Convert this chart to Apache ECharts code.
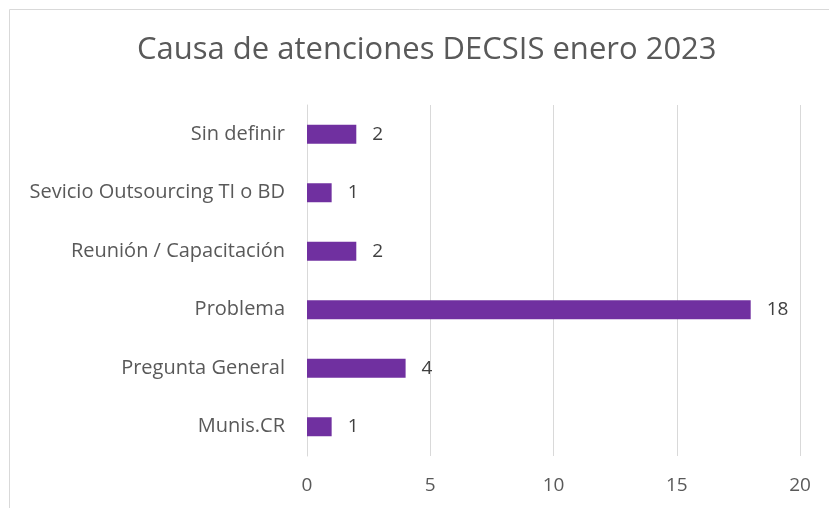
<!DOCTYPE html>
<html>
<head>
<meta charset="utf-8">
<script src="https://cdn.jsdelivr.net/npm/echarts@6/dist/echarts.min.js"></script>
<style>
  html, body { margin: 0; padding: 0; background: #fff; }
  #chart { width: 829px; height: 508px; }
</style>
</head>
<body>
<div id="chart"></div>
<script>
// categorías de abajo hacia arriba
var categories = ["Munis.CR", "Pregunta General", "Problema", "Reunión / Capacitación", "Sevicio Outsourcing TI o BD", "Sin definir"];
var values = [1, 4, 18, 2, 1, 2];
var xTicks = [0, 5, 10, 15, 20];

var chart = echarts.init(document.getElementById("chart"));
var font = "'Open Sans', sans-serif";

chart.setOption({
  animation: false,
  title: {
    text: "Causa de atenciones DECSIS enero 2023",
    left: 132,
    top: 30,
    textStyle: { color: "#595959", fontSize: 31, fontWeight: "normal", fontFamily: font }
  },
  graphic: [
    {
      type: "polyline",
      shape: { points: [[9.5, 508], [9.5, 9.5], [829, 9.5]] },
      style: { stroke: "#d9d9d9", lineWidth: 1, fill: null }
    }
  ],
  grid: { left: 307, right: 29, top: 105, bottom: 52 },
  xAxis: {
    type: "value",
    min: xTicks[0],
    max: xTicks[xTicks.length - 1],
    interval: 5,
    axisLine: { show: false },
    axisTick: { show: false },
    splitLine: { lineStyle: { color: "#d9d9d9", width: 1 } },
    axisLabel: { color: "#595959", fontSize: 19, fontFamily: font, margin: 20 }
  },
  yAxis: {
    type: "category",
    data: categories,
    axisLine: { lineStyle: { color: "#d9d9d9" } },
    axisTick: { show: false },
    axisLabel: { color: "#595959", fontSize: 20, fontFamily: font, margin: 22 }
  },
  series: [
    {
      type: "bar",
      data: values,
      barWidth: 19,
      itemStyle: { color: "#7030a0" },
      label: {
        show: true,
        position: "right",
        distance: 16,
        color: "#404040",
        fontSize: 19,
        fontFamily: font
      }
    }
  ]
});
</script>
</body>
</html>
